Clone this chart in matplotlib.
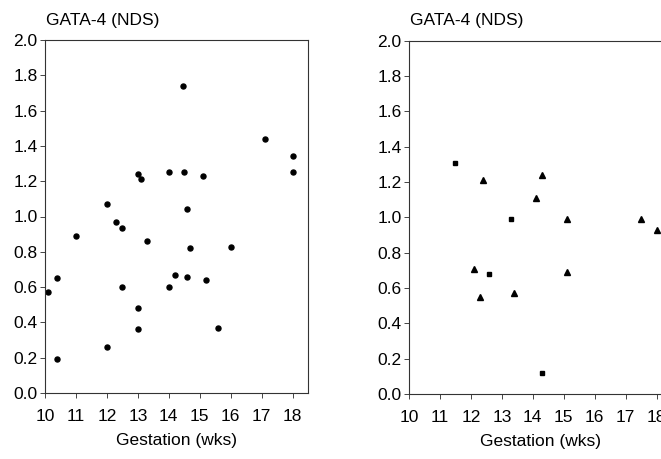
"""Two-panel GATA-4 (NDS) vs gestation scatter."""

import matplotlib.pyplot as plt

plt.rcParams["font.family"] = ["Liberation Sans", "DejaVu Sans"]

# Left panel: all samples (filled circles)
left_wks = [14.45, 17.1, 18.0, 18.0, 13.0, 13.1, 14.0, 14.5, 15.1, 14.6,
            12.0, 12.3, 12.5, 11.0, 13.3, 14.7, 16.0, 10.1, 10.4, 12.5,
            14.2, 14.6, 14.0, 15.2, 13.0, 13.0, 15.6, 12.0, 10.4]
left_val = [1.74, 1.44, 1.34, 1.25, 1.24, 1.21, 1.25, 1.25, 1.23, 1.04,
            1.07, 0.97, 0.935, 0.89, 0.86, 0.82, 0.83, 0.57, 0.65, 0.60,
            0.67, 0.66, 0.60, 0.64, 0.48, 0.36, 0.37, 0.26, 0.19]

# Right panel: squares and triangles
sq_wks = [11.5, 13.3, 12.6, 14.3]
sq_val = [1.31, 0.99, 0.68, 0.12]
tri_wks = [12.4, 14.3, 14.1, 15.1, 17.5, 18.0, 12.1, 12.3, 13.4, 15.1]
tri_val = [1.21, 1.24, 1.11, 0.99, 0.99, 0.93, 0.71, 0.55, 0.57, 0.69]

xticks = list(range(10, 19))
yticks = [0.0, 0.2, 0.4, 0.6, 0.8, 1.0, 1.2, 1.4, 1.6, 1.8, 2.0]

fig = plt.figure(figsize=(6.61, 4.59), dpi=100)
ax1 = fig.add_axes([45 / 661, 66 / 459, 263 / 661, 353 / 459])
ax2 = fig.add_axes([409 / 661, 65 / 459, 263 / 661, 353.3 / 459])

ax1.plot(left_wks, left_val, "o", color="black", markersize=3.6, linestyle="none")
ax2.plot(sq_wks, sq_val, "s", color="black", markersize=2.6, linestyle="none")
ax2.plot(tri_wks, tri_val, "^", color="black", markersize=4.0, linestyle="none")

for ax in (ax1, ax2):
    ax.set_xlim(10, 18.5)
    ax.set_ylim(0, 2.0)
    ax.set_xticks(xticks)
    ax.set_yticks(yticks)
    ax.set_yticklabels([f"{v:.1f}" for v in yticks])
    ax.tick_params(direction="out", length=3.3, width=0.7, labelsize=12.5,
                   color="#444444")
    ax.tick_params(axis="x", pad=8)
    ax.tick_params(axis="y", pad=2)
    for sp in ax.spines.values():
        sp.set_linewidth(0.8)
        sp.set_color("#333333")
    ax.set_title("GATA-4 (NDS)", loc="left", fontsize=12.5, pad=11, x=0.005)
    ax.set_xlabel("Gestation (wks)", fontsize=12.5, labelpad=7)

plt.savefig("out.png", dpi=100)
